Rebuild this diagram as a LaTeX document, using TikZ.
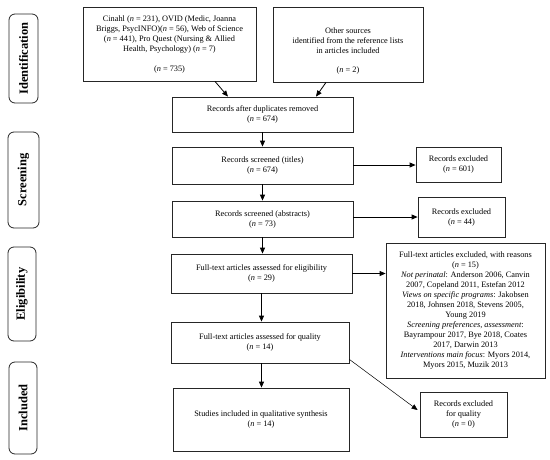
\documentclass[tikz,border=0pt]{standalone}
\usepackage{fontspec}
\setmainfont{Liberation Serif}
\usetikzlibrary{arrows.meta,calc}
\begin{document}
\begin{tikzpicture}[x=1pt,y=-1pt,
  box/.style={draw=black!85, line width=0.8pt, align=center, inner sep=0pt,
    font=\fontsize{8.3}{10}\selectfont},
  side/.style={draw=black!85, line width=0.8pt, rounded corners=6pt, rotate=90,
    inner sep=0pt, font=\fontsize{12.5}{14}\selectfont\bfseries},
  arr/.style={line width=0.8pt, -{Triangle[width=5pt,length=6pt]}},
  thinarr/.style={line width=0.5pt, -{Triangle[width=5pt,length=6pt]}}
]
\useasboundingbox[fill=white] (0,0) rectangle (550,459);
% side labels
\node[side, minimum width=89, minimum height=29] (sid) at (23.5,58.5) {Identification};
\node[side, minimum width=96, minimum height=31] (ssc) at (23.5,180) {Screening};
\node[side, minimum width=94, minimum height=28] (sel) at (22,294) {Eligibility};
\node[side, minimum width=92, minimum height=28] (sin) at (23,408) {Included};
% boxes
\node[box, minimum width=173, minimum height=74] (cinahl) at (169.5,44)
  {Cinahl (\textit{n} = 231), OVID (Medic, Joanna\\
   Briggs, PsycINFO)(\textit{n} = 56), Web of Science\\
   (\textit{n} = 441), Pro Quest (Nursing \& Allied\\
   Health, Psychology) (\textit{n} = 7)\\[10pt]
   (\textit{n} = 735)};
\node[box, minimum width=150, minimum height=75] (other) at (348,44.5)
  {\rule{0pt}{18pt}Other sources\\identified from the reference lists\\in articles included\\[9pt](\textit{n} = 2)};
\node[box, minimum width=181, minimum height=35] (dup) at (262.5,114.5)
  {Records after duplicates removed\\(\textit{n} = 674)};
\node[box, minimum width=181, minimum height=37] (titles) at (262.5,165.5)
  {Records screened (titles)\\(\textit{n} = 674)};
\node[box, minimum width=85, minimum height=35] (ex1) at (458.5,164.5)
  {Records excluded\\(\textit{n} = 601)};
\node[box, minimum width=181, minimum height=36] (abs) at (262.5,219)
  {Records screened (abstracts)\\(\textit{n} = 73)};
\node[box, minimum width=87, minimum height=40] (ex2) at (461.5,217)
  {Records excluded\\(\textit{n} = 44)};
\node[box, minimum width=181, minimum height=39] (elig) at (261.5,273.5)
  {Full-text articles assessed for eligibility\\(\textit{n} = 29)};
\node[box, minimum width=159, minimum height=135] (reasons) at (465.5,310.5)
  {Full-text articles excluded, with reasons\\
   (\textit{n} = 15)\\
   \textit{Not perinatal}: Anderson 2006, Canvin\\
   2007, Copeland 2011, Estefan 2012\\
   \textit{Views on specific programs}: Jakobsen\\
   2018, Johnsen 2018, Stevens 2005,\\
   Young 2019\\
   \textit{Screening preferences, assessment}:\\
   Bayrampour 2017, Bye 2018, Coates\\
   2017, Darwin 2013\\
   \textit{Interventions main focus}: Myors 2014,\\
   Myors 2015, Muzik 2013};
\node[box, minimum width=178, minimum height=41] (qual) at (260,342.5)
  {Full-text articles assessed for quality\\(\textit{n} = 14)};
\node[box, minimum width=176, minimum height=63] (incl) at (261,419.5)
  {Studies included in qualitative synthesis\\(\textit{n} = 14)};
\node[box, minimum width=87, minimum height=45] (ex3) at (463.5,414.5)
  {Records excluded\\for quality\\(\textit{n} = 0)};
% connectors
\draw[arr] ([xshift=45.5pt]cinahl.south) -- ([xshift=-34.5pt]dup.north);
\draw[arr] ([xshift=-22pt]other.south) -- ([xshift=53.5pt]dup.north);
\draw[arr] (dup.south) -- (dup.south |- titles.north);
\draw[arr] (titles.south) -- (titles.south |- abs.north);
\draw[arr] (abs.south) -- (abs.south |- elig.north);
\draw[arr] (elig.south) -- (elig.south |- qual.north);
\draw[arr] (qual.south -| elig.south) -- (elig.south |- incl.north);
\draw[arr] ([yshift=0.5pt]titles.east) -- ([yshift=0.5pt]titles.east -| ex1.west);
\draw[arr] ([yshift=2pt]abs.east) -- ([yshift=2pt]abs.east -| ex2.west);
\draw[arr] (elig.east) -- (elig.east -| reasons.west);
\draw[thinarr] ([yshift=4pt]qual.south east) -- ([yshift=4.5pt,xshift=-2pt]ex3.west);
\end{tikzpicture}
\end{document}
